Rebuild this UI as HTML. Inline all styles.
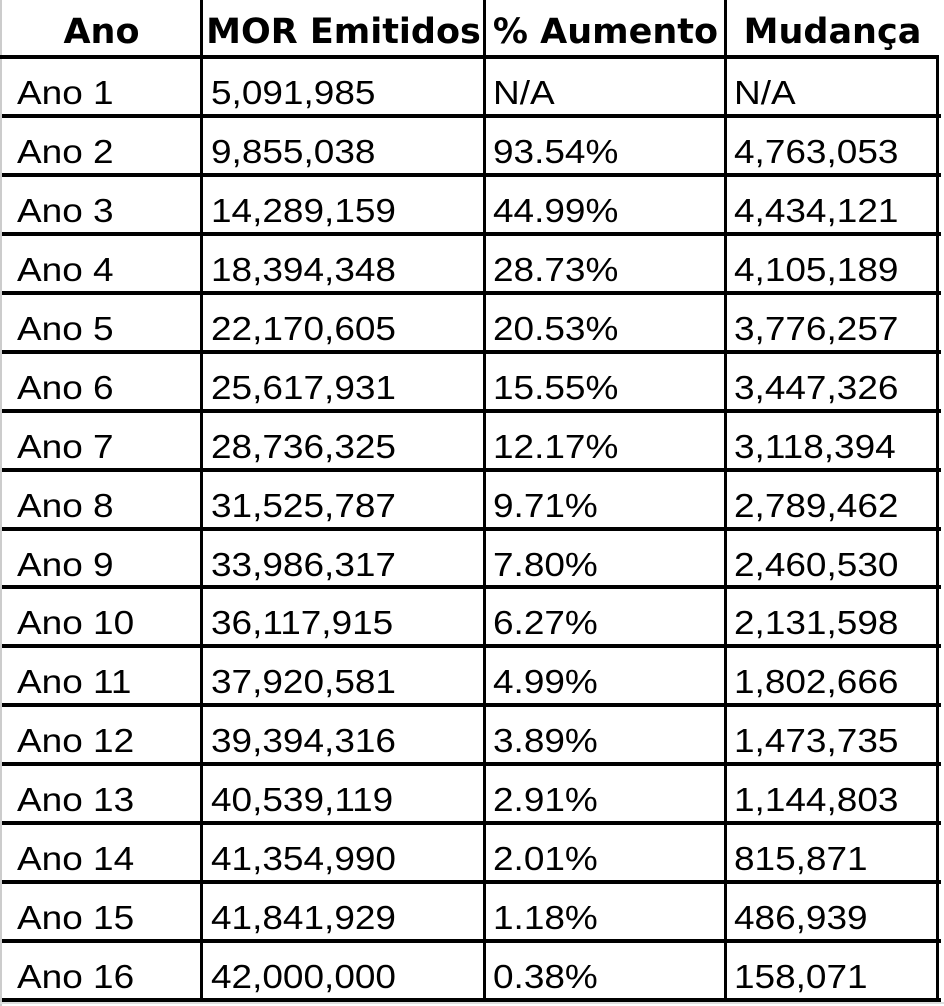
<!DOCTYPE html>
<html><head><meta charset="utf-8">
<style>
html,body{margin:0;padding:0;background:#fff;}
#wrap{position:relative;width:944px;height:1006px;overflow:hidden;background:#fff;}
.hl{position:absolute;background:#000;height:4px;}
.vl{position:absolute;background:#000;width:3px;}
.cell{position:absolute;font-family:"Liberation Sans",Arial,sans-serif;font-size:33px;color:#000;white-space:nowrap;transform:scaleX(1.12);transform-origin:left center;line-height:1;}
.hd{position:absolute;font-family:"DejaVu Sans","Liberation Sans",sans-serif;font-weight:bold;font-size:35px;color:#000;white-space:nowrap;line-height:1;text-align:center;}
</style></head><body>
<div id="wrap">
<div style="position:absolute;left:0;top:0;width:2px;height:1006px;background:#ccc"></div>
<div style="position:absolute;left:0;top:1002px;width:944px;height:2px;background:#ddd"></div>
</div>
<script>
const years=["Ano 1","Ano 2","Ano 3","Ano 4","Ano 5","Ano 6","Ano 7","Ano 8","Ano 9","Ano 10","Ano 11","Ano 12","Ano 13","Ano 14","Ano 15","Ano 16"];
const emitted=["5,091,985","9,855,038","14,289,159","18,394,348","22,170,605","25,617,931","28,736,325","31,525,787","33,986,317","36,117,915","37,920,581","39,394,316","40,539,119","41,354,990","41,841,929","42,000,000"];
const increase=["N/A","93.54%","44.99%","28.73%","20.53%","15.55%","12.17%","9.71%","7.80%","6.27%","4.99%","3.89%","2.91%","2.01%","1.18%","0.38%"];
const change=["N/A","4,763,053","4,434,121","4,105,189","3,776,257","3,447,326","3,118,394","2,789,462","2,460,530","2,131,598","1,802,666","1,473,735","1,144,803","815,871","486,939","158,071"];
const headers=["Ano","MOR Emitidos","% Aumento","Mudança"];
const wrap=document.getElementById('wrap');
const colX=[0,201,484,725,938];
const textX=[17,211,493,734];
const top0=57, pitch=(1000-57)/16;
headers.forEach((h,i)=>{
  const d=document.createElement('div');
  d.className='hd';
  
  
  d.style.left=(colX[i]+2)+'px';
  d.style.width=(colX[i+1]-colX[i]-2)+'px';
  d.style.top='15px';
  d.textContent=h;
  wrap.appendChild(d);
});
for(let r=0;r<=16;r++){
  const l=document.createElement('div');
  l.className='hl';
  
  
  l.style.left=(r===0?0:2)+'px';
  l.style.width='939px';
  l.style.top=Math.round(top0+r*pitch-2)+'px';
  wrap.appendChild(l);
}
[1,2,3].forEach(i=>{
  const l=document.createElement('div');
  l.className='vl';
  
  
  l.style.left=(colX[i]-1)+'px';
  l.style.top='0px';
  l.style.height='1002px';
  wrap.appendChild(l);
});
{
  const l=document.createElement('div');
  l.className='vl';
  
  
  l.style.left='936px';
  l.style.top='55px';
  l.style.height='947px';
  wrap.appendChild(l);
}
const cols=[years,emitted,increase,change];
for(let r=0;r<16;r++){
  cols.forEach((arr,c)=>{
    const d=document.createElement('div');
    d.className='cell';
    
    
    d.style.left=textX[c]+'px';
    d.style.top=Math.round(top0+r*pitch+19)+'px';
    d.textContent=arr[r];
    wrap.appendChild(d);
  });
}
</script>
</body></html>
